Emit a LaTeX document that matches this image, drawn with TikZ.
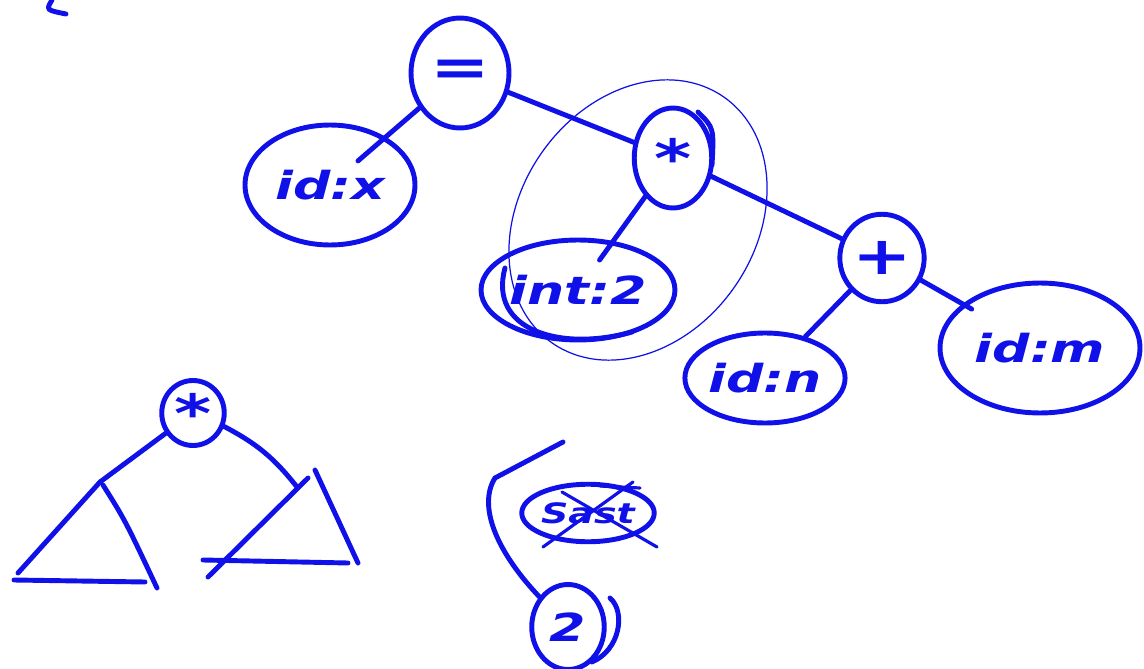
\documentclass[tikz,border=0pt]{standalone}
\usepackage{fontspec}
\setsansfont{DejaVu Sans}
\usepackage{graphicx}
\usetikzlibrary{positioning,shapes.geometric}
\definecolor{ink}{HTML}{1010E8}
\newcommand{\hw}[1]{\scalebox{1.35}[1]{\sffamily\itshape #1}}
\tikzset{
  leaf/.style={ellipse,draw=ink,line width=2.8pt,inner sep=0pt,
    font=\fontsize{22}{24}\selectfont\bfseries,text=ink},
  op/.style={leaf,font=\fontsize{30}{32}\selectfont\bfseries},
  ring/.style={ellipse,draw=ink,line width=0.7pt,inner sep=0pt},
  br/.style={draw=ink,line width=2.8pt,line cap=round},
}
\begin{document}
\begin{tikzpicture}[x=0.02cm,y=-0.02cm]
  \useasboundingbox (0,0) rectangle (1144,669);
  % upper tree
  \node[op,minimum width=1.96cm,minimum height=2.2cm] (eq) at (460,73) {\hw{=}};
  \node[leaf,minimum width=3.4cm,minimum height=2.4cm] (idx) at (330,185) {\hw{id:x}};
  \node[op,minimum width=1.55cm,minimum height=2cm] (mul) at (673,158) {\hw{*}};
  \node[ring,minimum width=6cm,minimum height=4.7cm,rotate=55] (sub) at (638,220) {};
  \node[leaf,minimum width=3.2cm,minimum height=2cm] (int) at (578,290) {\hw{int:2}};
  \node[op,minimum width=1.5cm,minimum height=1.75cm] (plus) at (882,258) {\hw{+}};
  \node[leaf,minimum width=2.8cm,minimum height=1.8cm] (idn) at (765,378) {\hw{id:n}};
  \node[leaf,minimum width=4cm,minimum height=2.6cm] (idm) at (1040,348) {\hw{id:m}};
  \draw[br,shorten >=21pt] (eq) -- (idx.center);
  \draw[br] (eq) -- (mul);
  \draw[br,shorten >=21pt] (mul) -- (int.center);
  \draw[br] (mul) -- (plus);
  \draw[br] (plus) -- (idn);
  \draw[br,shorten >=-6pt] (plus) -- (idm);
  \draw[br] (505,268) .. controls (488,330) and (560,352) .. (632,332);
  \draw[br] (698,112) .. controls (714,128) .. (712,165);
  \draw[br] (52,0) .. controls (46,10) .. (66,14);

  % subtree sketch
  \node[op,minimum width=1.25cm,minimum height=1.3cm] (mulb) at (193,413) {\hw{*}};
  \coordinate (la) at (100,482);
  \coordinate (ra) at (297,487);
  \draw[br] (mulb) -- (la);
  \draw[br] (mulb) to[bend left=12] (ra);
  \draw[br] (la) -- (18,573);
  \draw[br] (14,580) -- (145,582);
  \draw[br] (103,485) .. controls (125,520) .. (157,588);
  \draw[br] (308,478) -- (208,577);
  \draw[br] (203,560) -- (348,563);
  \draw[br] (315,470) -- (358,563);

  % crossed out
  \node[leaf,minimum width=2.6cm,minimum height=1.15cm,
    font=\fontsize{16}{18}\selectfont\bfseries] (cross) at (588,513) {\hw{Sast}};
  \draw[br,line width=1.8pt] (543,547) -- (633,482);
  \draw[br,line width=1.8pt] (562,492) -- (657,547);
  \draw[br,line width=1.8pt] (600,486) -- (640,488);
  \node[leaf,minimum width=1.45cm,minimum height=1.7cm] (two) at (568,627) {\hw{2}};
  \coordinate (bt) at (563,442);
  \draw[br] (bt) -- (495,478) .. controls (478,505) and (495,550) .. (two);
  \draw[br] (610,598) .. controls (626,612) and (620,650) .. (592,662);
\end{tikzpicture}
\end{document}
